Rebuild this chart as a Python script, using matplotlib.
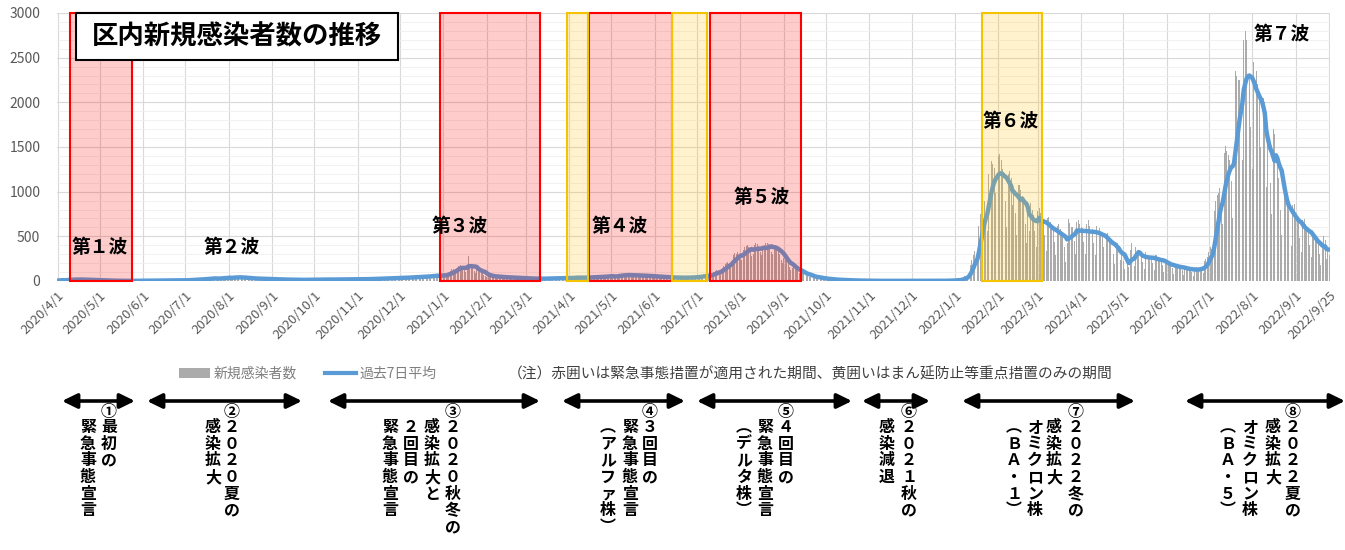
import pandas as pd
import matplotlib
matplotlib.use("Agg")
import matplotlib.pyplot as plt
import matplotlib.dates as mdates
from matplotlib.patches import Rectangle, Patch, FancyArrowPatch
from matplotlib.lines import Line2D

plt.rcParams["font.family"] = ["Noto Sans CJK JP", "DejaVu Sans"]

# Daily new cases (2020/4/1 - 2022/9/25)
cases_2020 = [
    5, 8, 10, 12, 9, 6, 14, 15, 18, 12, 20, 16, 9, 22, 17, 19, 14, 18, 12, 8, 16, 14, 12, 15, 10, 9, 6, 11, 8, 10,  # Apr
    7, 5, 6, 4, 3, 5, 4, 3, 6, 4, 2, 1, 3, 4, 2, 3, 1, 2, 3, 1, 0, 2, 1, 2, 1, 3, 2, 1, 2, 1, 3,  # May
    1, 3, 4, 2, 5, 3, 2, 1, 4, 3, 5, 6, 4, 2, 3, 5, 4, 6, 5, 7, 3, 2, 6, 8, 7, 9, 6, 4, 3, 10,  # Jun
    12, 10, 14, 15, 9, 8, 16, 18, 20, 17, 22, 14, 10, 24, 26, 30, 27, 33, 25, 18, 32, 35, 30, 28, 26, 22, 34, 38, 36, 40, 42,  # Jul
    38, 30, 25, 42, 50, 48, 45, 40, 32, 26, 38, 44, 40, 35, 30, 22, 19, 30, 34, 32, 28, 24, 18, 15, 26, 28, 25, 22, 20, 14, 12,  # Aug
    22, 24, 20, 18, 16, 12, 10, 18, 20, 19, 17, 15, 11, 9, 16, 18, 17, 14, 13, 10, 8, 12, 15, 18, 16, 14, 11, 9, 17, 19,  # Sep
    18, 16, 15, 12, 10, 20, 22, 19, 17, 14, 11, 9, 21, 23, 20, 18, 15, 12, 10, 20, 24, 22, 19, 16, 13, 11, 22, 25, 23, 21, 18,  # Oct
    15, 12, 24, 26, 25, 23, 20, 16, 13, 27, 30, 28, 26, 24, 19, 15, 30, 33, 35, 32, 28, 22, 18, 36, 38, 40, 35, 33, 26, 20,  # Nov
    40, 45, 42, 38, 36, 30, 25, 48, 52, 50, 46, 42, 34, 28, 55, 60, 58, 52, 48, 40, 32, 62, 68, 70, 64, 58, 50, 44, 55, 72, 80,  # Dec
]
cases_2021 = [
    75, 60, 55, 70, 95, 110, 130, 130, 120, 100, 150, 170, 180, 160, 150, 120, 100, 160, 280, 190, 160, 140, 110, 90, 130, 140, 120, 100, 90, 70, 55,  # Jan
    40, 60, 70, 65, 55, 45, 35, 30, 50, 55, 52, 45, 38, 30, 28, 45, 48, 44, 40, 32, 25, 24, 40, 42, 38, 34, 28, 22,  # Feb
    20, 32, 35, 30, 28, 24, 20, 18, 30, 34, 32, 28, 22, 18, 20, 32, 36, 34, 30, 26, 22, 24, 36, 40, 38, 34, 28, 24, 26, 38, 42,  # Mar
    40, 36, 30, 26, 40, 44, 42, 38, 34, 30, 28, 42, 48, 46, 44, 40, 34, 30, 48, 54, 52, 50, 46, 38, 34, 55, 62, 60, 58, 54,  # Apr
    48, 40, 36, 62, 66, 70, 72, 68, 56, 45, 70, 78, 75, 70, 66, 52, 42, 68, 74, 70, 66, 60, 48, 40, 62, 66, 62, 58, 54, 44, 36,  # May
    55, 58, 54, 50, 44, 36, 30, 48, 50, 46, 42, 38, 30, 26, 44, 46, 42, 40, 36, 28, 24, 42, 46, 44, 42, 38, 30, 28, 50, 54,  # Jun
    52, 50, 44, 40, 58, 62, 66, 70, 68, 60, 50, 80, 100, 110, 120, 115, 100, 85, 140, 170, 190, 200, 210, 180, 160, 240, 290, 310, 300, 320, 280,  # Jul
    250, 240, 350, 380, 390, 400, 380, 320, 280, 300, 400, 420, 410, 390, 330, 290, 350, 400, 420, 430, 410, 380, 330, 300, 380, 400, 380, 350, 300, 240, 200,  # Aug
    260, 240, 220, 200, 160, 120, 150, 160, 150, 130, 110, 90, 70, 100, 95, 85, 70, 60, 48, 45, 55, 50, 45, 40, 35, 28, 24, 32, 30, 28,  # Sep
    24, 20, 16, 14, 20, 18, 16, 14, 12, 10, 8, 12, 11, 10, 9, 8, 6, 5, 8, 7, 6, 5, 5, 4, 3, 5, 4, 4, 3, 3, 2,  # Oct
    1, 3, 2, 3, 2, 2, 1, 1, 2, 3, 2, 2, 1, 1, 0, 2, 2, 3, 1, 2, 1, 1, 2, 1, 3, 2, 1, 1, 0, 2,  # Nov
    2, 3, 2, 1, 1, 0, 2, 3, 2, 2, 1, 1, 1, 3, 2, 3, 2, 2, 1, 1, 3, 4, 3, 3, 2, 2, 3, 5, 6, 8, 10,  # Dec
]
cases_2022 = [
    8, 6, 4, 14, 22, 30, 40, 55, 52, 45, 125, 180, 230, 290, 340, 300, 260, 620, 750, 800, 860, 900, 740, 560, 1200, 1330, 1340, 1310, 1270, 980, 700,  # Jan
    1400, 1420, 1360, 1250, 1140, 900, 600, 1200, 1230, 1150, 850, 1050, 760, 520, 1080, 1070, 1020, 950, 870, 640, 420, 790, 560, 870, 800, 740, 560, 380,  # Feb
    780, 820, 760, 700, 680, 520, 340, 700, 720, 660, 610, 590, 440, 290, 620, 640, 580, 530, 500, 380, 210, 420, 690, 650, 610, 600, 450, 300, 660, 680, 640,  # Mar
    610, 590, 440, 300, 640, 680, 620, 600, 580, 430, 290, 620, 650, 590, 550, 520, 380, 250, 530, 540, 480, 440, 410, 300, 190, 410, 420, 370, 230, 300,  # Apr
    220, 130, 170, 190, 160, 350, 420, 300, 170, 380, 340, 310, 290, 280, 210, 130, 330, 320, 290, 280, 270, 200, 120, 290, 290, 260, 250, 240, 180, 100, 240,  # May
    220, 200, 190, 185, 140, 80, 195, 190, 170, 165, 160, 120, 70, 165, 160, 145, 140, 140, 105, 60, 150, 155, 140, 150, 160, 130, 85, 220, 250, 270,  # Jun
    330, 380, 360, 310, 780, 900, 960, 990, 1040, 860, 640, 1430, 1510, 1460, 1410, 1350, 1120, 700, 1650, 2350, 2300, 2250, 2250, 1800, 1350, 2700, 2800, 2700, 2450, 2300, 1720,  # Jul
    1250, 2450, 2500, 2350, 2200, 2050, 1500, 1000, 2050, 2000, 1050, 1600, 1550, 1100, 750, 1700, 1650, 1500, 1350, 1150, 800, 520, 1050, 1000, 920, 850, 800, 580, 390, 850, 860,  # Aug
    740, 700, 650, 480, 330, 680, 690, 640, 600, 560, 400, 270, 540, 540, 490, 450, 420, 300, 180, 400, 500, 460, 250, 380, 290,  # Sep
]

# Boxes drawn on the chart (red: emergency, yellow: manbou only)
red_periods = [("2020-04-10", "2020-05-24"), ("2020-12-30", "2021-03-11"),
               ("2021-04-15", "2021-06-13"), ("2021-07-10", "2021-09-13")]
yellow_periods = [("2021-03-30", "2021-04-14"), ("2021-06-13", "2021-07-08"),
                  ("2022-01-20", "2022-03-04")]

wave_labels = ["第１波", "第２波", "第３波", "第４波", "第５波", "第６波", "第７波"]
wave_dates = ["2020-05-01", "2020-08-03", "2021-01-13", "2021-05-07", "2021-08-16", "2022-02-10", "2022-08-22"]
wave_values = [370, 370, 605, 605, 930, 1790, 2755]

period_nums = ["①", "②", "③", "④", "⑤", "⑥", "⑦", "⑧"]
period_texts = [
    ["最初の", "緊急事態宣言"],
    ["２０２０夏の", "感染拡大"],
    ["２０２０秋冬の", "感染拡大と", "２回目の", "緊急事態宣言"],
    ["３回目の", "緊急事態宣言", "︵アルファ株︶"],
    ["４回目の", "緊急事態宣言", "︵デルタ株︶"],
    ["２０２１秋の", "感染減退"],
    ["２０２２冬の", "感染拡大", "オミクロン株", "︵ＢＡ・１︶"],
    ["２０２２夏の", "感染拡大", "オミクロン株", "︵ＢＡ・５︶"],
]

# Build series
cases = cases_2020 + cases_2021 + cases_2022
dates = pd.date_range("2020-04-01", periods=len(cases), freq="D")
df = pd.DataFrame({"cases": cases}, index=dates)
df["avg7"] = df["cases"].rolling(7, min_periods=1).mean()

W, H = 1345, 550
fig = plt.figure(figsize=(W / 100, H / 100), dpi=100)


def fx(px):
    return px / W


def fy(py):
    return 1 - py / H


ax = fig.add_axes([fx(57), fy(281), fx(1330) - fx(57), fy(13) - fy(281)])

# Bars and 7 day average
ax.bar(df.index, df["cases"], width=0.65, color="#ABABAB", linewidth=0, zorder=2)
ax.plot(df.index, df["avg7"], color="#5B9BD5", lw=3.2, zorder=3, solid_capstyle="round")

# Period boxes
for s, e in red_periods:
    x0, x1 = mdates.date2num(pd.Timestamp(s)), mdates.date2num(pd.Timestamp(e))
    ax.add_patch(Rectangle((x0, 0), x1 - x0, 3000, facecolor=(1, 0, 0, 0.2),
                           edgecolor="#FF0000", lw=1.5, zorder=4, clip_on=False))
for s, e in yellow_periods:
    x0, x1 = mdates.date2num(pd.Timestamp(s)), mdates.date2num(pd.Timestamp(e))
    ax.add_patch(Rectangle((x0, 0), x1 - x0, 3000, facecolor=(1, 0.75, 0, 0.2),
                           edgecolor="#F5C400", lw=1.5, zorder=4, clip_on=False))

# Wave labels
for lab, d, v in zip(wave_labels, wave_dates, wave_values):
    ax.text(pd.Timestamp(d), v, lab, ha="center", va="center", fontsize=13.5,
            fontweight="bold", color="black", zorder=6)

# Axes styling
ax.set_ylim(0, 3000)
ax.set_xlim(pd.Timestamp("2020-03-31 12:00"), pd.Timestamp("2022-09-25 12:00"))
ax.set_yticks(range(0, 3001, 500))
ax.set_yticks(range(0, 3001, 100), minor=True)
ticks = pd.date_range("2020-04-01", "2022-09-01", freq="MS").append(pd.DatetimeIndex(["2022-09-25"]))
ax.set_xticks(ticks)
ax.set_xticklabels([f"{d.year}/{d.month}/{d.day}" for d in ticks], rotation=45, ha="right",
                   rotation_mode="anchor", fontsize=9.5, color="#595959")
for t in ax.get_yticklabels():
    t.set_fontsize(10)
    t.set_color("#595959")
ax.tick_params(axis="both", which="both", length=0)
ax.tick_params(axis="x", pad=6)
ax.tick_params(axis="y", pad=12)
ax.grid(axis="y", which="major", color="#D9D9D9", lw=0.8)
ax.grid(axis="y", which="minor", color="#EFEFEF", lw=0.6)
ax.grid(axis="x", which="major", color="#D9D9D9", lw=0.8)
ax.set_axisbelow(True)
for sp in ax.spines.values():
    sp.set_visible(False)

# Title box
fig.add_artist(Rectangle((fx(76), fy(60)), fx(398) - fx(76), fy(13) - fy(60),
                         transform=fig.transFigure, facecolor="white", edgecolor="black",
                         lw=1.5, zorder=10))
fig.text(fx(237), fy(37), "区内新規感染者数の推移", ha="center", va="center",
         fontsize=19, fontweight="bold", zorder=11)

# Legend and note
fig.legend(handles=[Patch(facecolor="#ABABAB"), Line2D([], [], color="#5B9BD5", lw=3)],
           labels=["新規感染者数", "過去7日平均"], loc="center",
           bbox_to_anchor=(fx(308), fy(374)), ncol=2, frameon=False, fontsize=10,
           labelcolor="#7F7F7F", handlelength=2.2, columnspacing=2.0, handletextpad=0.3)
fig.text(fx(508), fy(374), "（注）赤囲いは緊急事態措置が適用された期間、黄囲いはまん延防止等重点措置のみの期間",
         va="center", fontsize=10.6, color="#404040")

# Period arrows and vertical captions
arrow_spans = [(62, 135), (147, 302), (328, 540), (562, 685),
               (697, 852), (862, 930), (962, 1135), (1185, 1345)]
caption_cols = [[109, 88], [232, 213], [453, 432, 411, 390], [650, 630, 608],
                [786, 765, 744], [909, 887], [1076, 1054, 1035, 1014], [1293, 1273, 1250, 1228]]
for (x0, x1) in arrow_spans:
    fig.add_artist(FancyArrowPatch((fx(x0), fy(401)), (fx(x1), fy(401)), transform=fig.transFigure,
                                   arrowstyle="<|-|>,head_length=0.45,head_width=0.22",
                                   mutation_scale=20, lw=2.6, color="black",
                                   shrinkA=0, shrinkB=0))
for num, cols, xs in zip(period_nums, period_texts, caption_cols):
    fig.text(fx(xs[0]), fy(412), num, ha="center", va="center", fontsize=11.5, fontweight="bold")
    for col, cx in zip(cols, xs):
        for i, ch in enumerate(col):
            fig.text(fx(cx), fy(419 + i * 16.7), ch, ha="center", va="top",
                     fontsize=11.5, fontweight="bold")

fig.savefig("out.png", dpi=100)
